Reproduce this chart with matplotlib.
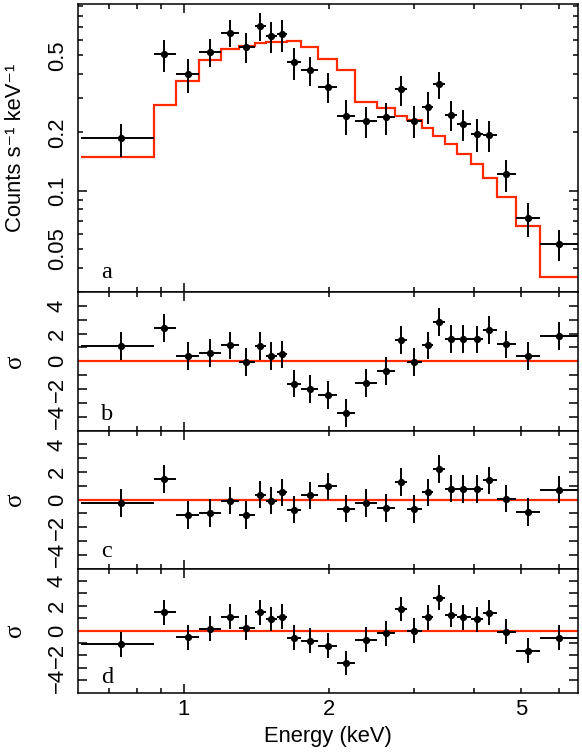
import matplotlib
matplotlib.use("Agg")
import matplotlib.pyplot as plt
from matplotlib.ticker import FixedLocator, FuncFormatter, NullFormatter

# ---------------- data ----------------
energy = [0.7425, 0.913, 1.021, 1.136, 1.246, 1.349, 1.438, 1.521, 1.603, 1.692,
          1.826, 1.988, 2.170, 2.387, 2.627, 2.822, 3.007, 3.206, 3.388, 3.583,
          3.800, 4.053, 4.303, 4.661, 5.169, 6.003]
bin_edges = [0.613, 0.868, 0.963, 1.076, 1.198, 1.302, 1.404, 1.485, 1.562, 1.64,
             1.755, 1.900, 2.081, 2.265, 2.512, 2.742, 2.900, 3.115, 3.293, 3.482,
             3.683, 3.937, 4.170, 4.459, 4.890, 5.484, 6.56]
counts = [0.186, 0.507, 0.400, 0.521, 0.655, 0.553, 0.709, 0.627, 0.642, 0.459,
          0.419, 0.344, 0.244, 0.229, 0.239, 0.334, 0.230, 0.271, 0.354, 0.246,
          0.221, 0.196, 0.194, 0.1215, 0.0721, 0.0531]
counts_err = [0.036, 0.096, 0.079, 0.087, 0.106, 0.098, 0.117, 0.112, 0.122, 0.085,
              0.072, 0.060, 0.049, 0.041, 0.044, 0.059, 0.044, 0.051, 0.057, 0.043,
              0.041, 0.038, 0.036, 0.023, 0.0146, 0.0098]
model = [0.1487, 0.2755, 0.369, 0.4718, 0.5375, 0.559, 0.582, 0.589, 0.585, 0.591,
         0.5525, 0.4775, 0.419, 0.2876, 0.2678, 0.2435, 0.2314, 0.2112, 0.192, 0.174,
         0.1546, 0.1368, 0.1167, 0.0931, 0.066, 0.036]

resid_b = [1.10, 2.40, 0.38, 0.60, 1.15, -0.05, 1.10, 0.36, 0.50, -1.60,
           -1.97, -2.40, -3.72, -1.56, -0.70, 1.56, -0.05, 1.15, 2.83, 1.63,
           1.63, 1.58, 2.28, 1.22, 0.38, 1.82]
resid_c = [-0.24, 1.49, -1.13, -0.96, -0.07, -1.13, 0.36, -0.07, 0.53, -0.72,
           0.31, 0.96, -0.65, -0.24, -0.60, 1.27, -0.67, 0.53, 2.21, 0.79,
           0.77, 0.77, 1.39, 0.07, -0.89, 0.72]
resid_d = [-1.09, 1.47, -0.53, 0.14, 1.12, 0.24, 1.47, 0.94, 1.12, -0.56,
           -0.80, -1.22, -2.61, -0.74, -0.21, 1.74, 0.0, 1.07, 2.64, 1.26,
           1.07, 0.91, 1.44, -0.08, -1.62, -0.56]
resid_err = 1.0

panel_letters = ["a", "b", "c", "d"]
x_major = [1]
x_minor = [0.7, 0.8, 0.9, 2, 3, 4, 5, 6]
x_labels = {1: "1", 2: "2", 5: "5"}
y_major_top = [0.1]
y_minor_top = [0.03, 0.04, 0.05, 0.06, 0.07, 0.08, 0.09, 0.2, 0.3, 0.4, 0.5, 0.6, 0.7, 0.8, 0.9]
y_labels_top = {0.05: "0.05", 0.1: "0.1", 0.2: "0.2", 0.5: "0.5"}
res_ticks = [-4, -3, -2, -1, 0, 1, 2, 3, 4]
res_labels = {-4: "\u22124", -2: "\u22122", 0: "0", 2: "2", 4: "4"}

# ---------------- style ----------------
RED = "#ff2a00"
SANS = ["Liberation Sans", "DejaVu Sans"]
SERIF = ["Liberation Serif", "DejaVu Serif"]
FS = 15.8
plt.rcParams["font.family"] = SANS
plt.rcParams["axes.linewidth"] = 1.1

W, H = 582, 754
fig = plt.figure(figsize=(W / 100, H / 100), dpi=100)

left_px, right_px = 77.7, 577.7
panels_px = [(4, 292), (292, 430.7), (430.7, 568.5), (568.5, 692.7)]
letter_base_px = [14, 10.7, 11.8, 10]

xerr_lo = [e - bin_edges[i] for i, e in enumerate(energy)]
xerr_hi = [bin_edges[i + 1] - e for i, e in enumerate(energy)]


def lookup(d, v):
    for k, s in d.items():
        if abs(v - k) < 1e-6 * max(1, abs(k)):
            return s
    return ""


axes = []
for i, (t, b) in enumerate(panels_px):
    ax = fig.add_axes([left_px / W, 1 - b / H, (right_px - left_px) / W, (b - t) / H])
    axes.append(ax)
    ax.set_xscale("log")
    ax.set_xlim(0.6035, 6.56)
    ax.xaxis.set_major_locator(FixedLocator(x_major))
    ax.xaxis.set_minor_locator(FixedLocator(x_minor))
    if i == 3:
        fmt = FuncFormatter(lambda v, p: lookup(x_labels, v))
        ax.xaxis.set_major_formatter(fmt)
        ax.xaxis.set_minor_formatter(fmt)
    else:
        ax.xaxis.set_major_formatter(NullFormatter())
        ax.xaxis.set_minor_formatter(NullFormatter())
    ax.tick_params(which="both", direction="in", top=True, right=True, width=1.1,
                   labelsize=FS)
    ax.tick_params(which="major", length=6.8)
    ax.tick_params(which="minor", length=3.6)
    ax.tick_params(axis="x", which="both", pad=4.5)
    ax.tick_params(axis="y", which="both", pad=7, labelrotation=90)

    ax.annotate(panel_letters[i], xy=((101 - left_px) / (right_px - left_px), 0),
                xycoords="axes fraction", xytext=(0, letter_base_px[i]),
                textcoords="offset pixels", ha="left", va="baseline",
                family=SERIF, fontsize=17.5)

# top panel: spectrum
ax = axes[0]
ax.set_yscale("log")
ax.set_ylim(0.03, 0.92)
ax.yaxis.set_major_locator(FixedLocator(y_major_top))
ax.yaxis.set_minor_locator(FixedLocator(y_minor_top))
fmt_y = FuncFormatter(lambda v, p: lookup(y_labels_top, v))
ax.yaxis.set_major_formatter(fmt_y)
ax.yaxis.set_minor_formatter(fmt_y)
ax.tick_params(axis="y", which="both", pad=7, labelrotation=90, labelsize=FS)
ax.stairs(model, bin_edges, baseline=None, color=RED, lw=1.6, zorder=2)
ax.errorbar(energy, counts, xerr=[xerr_lo, xerr_hi], yerr=counts_err, fmt="o",
            ms=4.2, color="black", elinewidth=1.4, capsize=0, zorder=3)

# residual panels
for ax, res in zip(axes[1:], [resid_b, resid_c, resid_d]):
    ax.set_ylim(-5, 5)
    ax.yaxis.set_major_locator(FixedLocator(res_ticks))
    ax.yaxis.set_minor_locator(FixedLocator([]))
    ax.yaxis.set_major_formatter(FuncFormatter(lambda v, p: lookup(res_labels, v)))
    ax.tick_params(axis="y", which="major", length=6.8)
    ax.axhline(0, color=RED, lw=1.6, zorder=2)
    ax.errorbar(energy, res, xerr=[xerr_lo, xerr_hi], yerr=resid_err, fmt="o",
                ms=4.2, color="black", elinewidth=1.4, capsize=0, zorder=3)

for ax in axes:
    for lab in ax.yaxis.get_ticklabels(which="both"):
        lab.set_verticalalignment("center")

# axis labels
for i, (t, b) in enumerate(panels_px):
    txt = "Counts s\u207b\u00b9 keV\u207b\u00b9" if i == 0 else "\u03c3"
    fam = SANS if i == 0 else SERIF
    fs = FS if i == 0 else 18
    fig.text(15.5 / W, 1 - (t + b) / 2 / H, txt, rotation=90, ha="center", va="center",
             family=fam, fontsize=fs)

axes[3].set_xlabel("Energy (keV)", fontsize=FS, labelpad=4)

fig.savefig("out.png", dpi=100)
